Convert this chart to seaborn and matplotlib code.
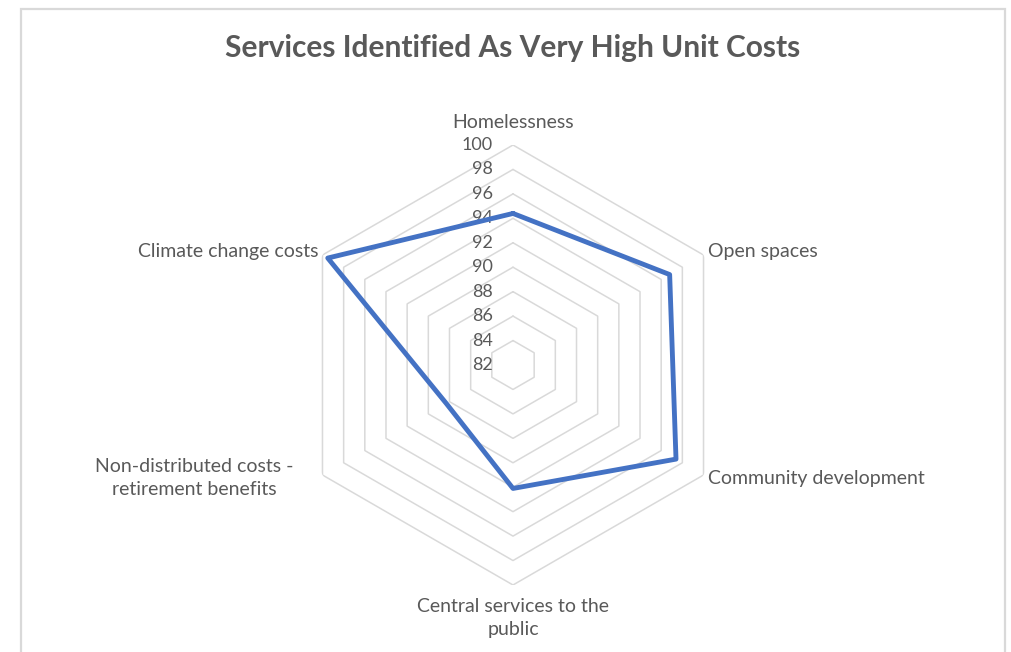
import numpy as np
import pandas as pd
import seaborn as sns
import matplotlib
matplotlib.use("Agg")
import matplotlib.pyplot as plt
from matplotlib.transforms import offset_copy

# Services and their scores
categories = [
    "Homelessness",
    "Open spaces",
    "Community development",
    "Central services to the\npublic",
    "Non-distributed costs -\nretirement benefits",
    "Climate change costs",
]
scores = [94.4, 96.8, 97.4, 92.1, 88.3, 99.5]

# Radial scale
r_min, r_max = 82, 100
ring_values = list(range(84, 101, 2))
tick_values = list(range(82, 101, 2))

title = "Services Identified As Very High Unit Costs"

sns.set_theme(style="white")
plt.rcParams["font.family"] = ["Lato", "DejaVu Sans"]

TEXT = "#595959"
GRID = "#d9d9d9"
LINE = "#4472C4"

n = len(categories)
angles = np.arange(n) * 2 * np.pi / n

df = pd.DataFrame({
    "angle": np.append(angles, angles[0]),
    "score": scores + [scores[0]],
})

fig = plt.figure(figsize=(10.11, 6.52), dpi=100)
fig.patch.set_facecolor("white")

# chart frame (open at the bottom edge)
frame = plt.Rectangle((21 / 1011, -0.05), (1005 - 21) / 1011, 1.05 - 9 / 652,
                      transform=fig.transFigure, fill=False,
                      edgecolor=GRID, linewidth=1.6)
fig.add_artist(frame)

ax = fig.add_axes([293 / 1011, 67 / 652, 440 / 1011, 440 / 652], projection="polar")
ax.set_theta_zero_location("N")
ax.set_theta_direction(-1)
ax.set_ylim(r_min, r_max)
ax.grid(False)
ax.spines["polar"].set_visible(False)
ax.set_xticks([])
ax.set_yticks([])
ax.set_facecolor("none")

# hexagonal gridlines
closed = np.append(angles, angles[0])
for v in ring_values:
    ax.plot(closed, [v] * (n + 1), color=GRID, linewidth=1.1, zorder=1)

# data series
sns.lineplot(data=df, x="angle", y="score", sort=False, estimator=None,
             color=LINE, linewidth=3.5, ax=ax, zorder=3)
ax.set_xlabel("")
ax.set_ylabel("")
ax.set_ylim(r_min, r_max)

# radial tick labels, left of the vertical axis
tick_tr = offset_copy(ax.transData, fig=fig, x=-20, y=0, units="dots")
for v in tick_values:
    ax.text(0, v, str(v), transform=tick_tr, ha="right", va="center",
            fontsize=13, color=TEXT, zorder=2)

# category labels
label_spec = [
    (0, 23, "center", "center"),
    (4, 4, "left", "center"),
    (4, -4, "left", "center"),
    (0, -13, "center", "top"),
    (-29, -3, "right", "center"),
    (-4, 4, "right", "center"),
]
for ang, cat, (dx, dy, ha, va) in zip(angles, categories, label_spec):
    tr = offset_copy(ax.transData, fig=fig, x=dx, y=dy, units="dots")
    ax.text(ang, r_max, cat, transform=tr, ha=ha, va=va, fontsize=14,
            color=TEXT, linespacing=1.45, multialignment="center")

fig.text(513 / 1011, 1 - 48 / 652, title, ha="center", va="center",
         fontsize=21.5, fontweight="bold", color=TEXT)

fig.savefig("out.png", dpi=100, facecolor="white")
